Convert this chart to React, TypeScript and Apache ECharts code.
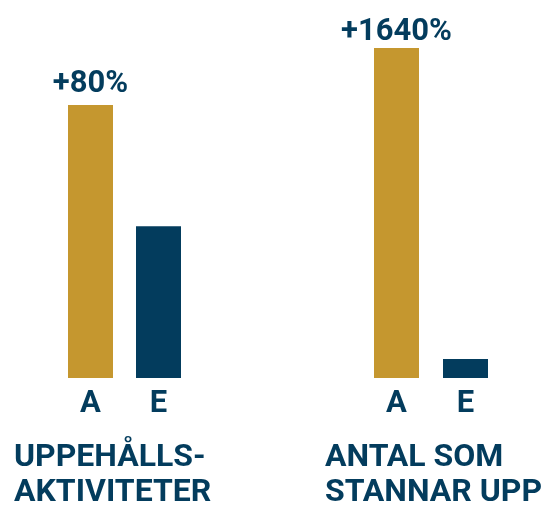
import React, { useEffect, useRef } from "react";
import * as echarts from "echarts";

const categories = ["A", "E"];
const leftValues = [180, 100];
const rightValues = [1740, 100];
const leftLabels = ["+80%", ""];
const rightLabels = ["+1640%", ""];
const titles = ["UPPEHÅLLS-\nAKTIVITETER", "ANTAL SOM\nSTANNAR UPP"];

const GOLD = "#C5972F";
const NAVY = "#033C5D";
const FONT = "Roboto";

export default function App() {
  const ref = useRef<HTMLDivElement>(null);
  useEffect(() => {
    if (!ref.current) return;
    const chart = echarts.init(ref.current, undefined, { renderer: "svg" });
    const colors = [GOLD, NAVY];
    const mkData = (vals: number[]) =>
      vals.map((v, i) => ({ value: v, itemStyle: { color: colors[i] } }));
    const xAxisCommon = {
      type: "category" as const,
      data: categories,
      axisLine: { show: false },
      axisTick: { show: false },
      axisLabel: {
        color: NAVY,
        fontSize: 31,
        fontWeight: "bold" as const,
        fontFamily: FONT,
        margin: 8,
      },
    };
    chart.setOption({
      animation: false,
      title: titles.map((t, i) => ({
        text: t,
        left: i === 0 ? 14 : 325,
        top: 437,
        padding: 0,
        textStyle: {
          color: NAVY,
          fontSize: 32,
          fontWeight: "bold",
          fontFamily: FONT,
          lineHeight: 35.5,
        },
      })),
      grid: [
        { left: 56.5, width: 136, top: 105, height: 273 },
        { left: 362, width: 138, top: 48, height: 330 },
      ],
      xAxis: [
        { ...xAxisCommon, gridIndex: 0 },
        { ...xAxisCommon, gridIndex: 1 },
      ],
      yAxis: [
        { type: "value", gridIndex: 0, min: 0, max: 180, show: false },
        { type: "value", gridIndex: 1, min: 0, max: 1740, show: false },
      ],
      series: [
        {
          type: "bar",
          xAxisIndex: 0,
          yAxisIndex: 0,
          barWidth: 45,
          data: mkData(leftValues),
          label: {
            show: true,
            position: "top",
            distance: 8,
            formatter: (p: any) => leftLabels[p.dataIndex],
            color: NAVY,
            fontSize: 31,
            fontWeight: "bold",
            fontFamily: FONT,
          },
        },
        {
          type: "bar",
          xAxisIndex: 1,
          yAxisIndex: 1,
          barWidth: 45,
          data: mkData(rightValues),
          label: {
            show: true,
            position: "top",
            distance: 3,
            formatter: (p: any) => rightLabels[p.dataIndex],
            color: NAVY,
            fontSize: 31,
            fontWeight: "bold",
            fontFamily: FONT,
          },
        },
      ],
    });
    return () => chart.dispose();
  }, []);
  return (
    <div
      ref={ref}
      style={{ position: "fixed", left: 0, top: 0, width: 544, height: 508 }}
    />
  );
}
